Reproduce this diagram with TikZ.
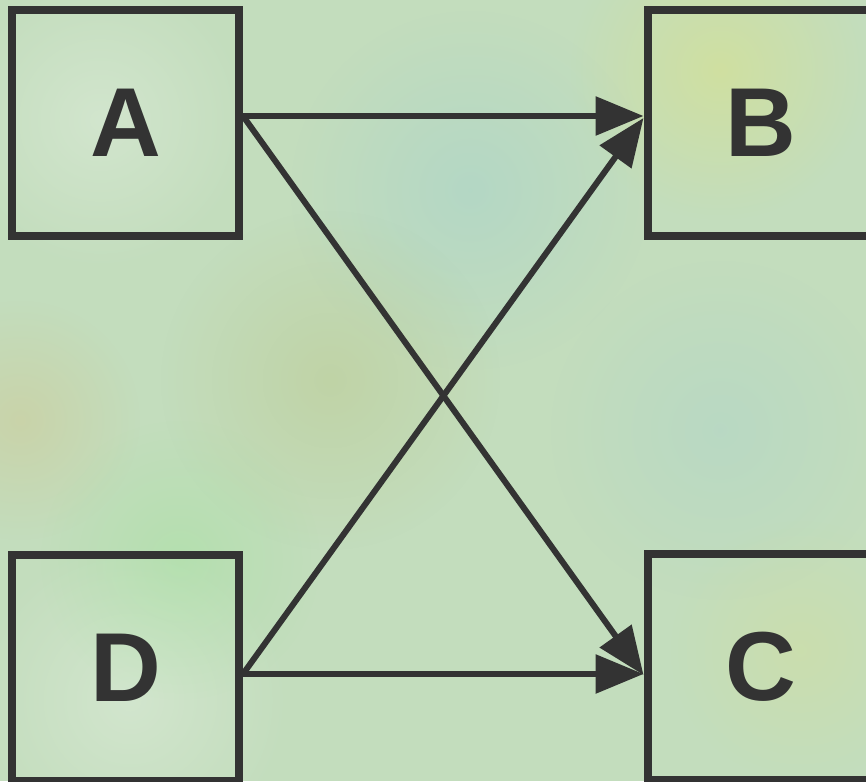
\documentclass[tikz,border=0pt]{standalone}
\usepackage{fontspec}
\setmainfont{Liberation Sans}
\usetikzlibrary{arrows.meta,fadings}
\definecolor{bgbase}{HTML}{C3DDBD}
\definecolor{ink}{HTML}{333333}
\tikzfading[name=softblob,inner color=transparent!0,outer color=transparent!100]
\begin{document}
\begin{tikzpicture}[x=1pt,y=-1pt,
  box/.style={draw=ink,line width=8pt,minimum width=227pt,minimum height=226pt,inner sep=0pt,
    font=\fontsize{98}{98}\selectfont\bfseries,text=ink},
  arr/.style={draw=ink,line width=6pt,-{Triangle[length=48pt,width=38pt]}},
  blob/.style={path fading=softblob}]
\useasboundingbox (0,0) rectangle (866,781);
\clip (0,0) rectangle (866,781);
\fill[bgbase] (0,0) rectangle (866,781);
% soft colour variations of the textured background
\fill[blob,color=yellow!40!bgbase,opacity=0.45] (720,70) circle (150);
\fill[blob,color=cyan!25!bgbase,opacity=0.4] (470,190) circle (180);
\fill[blob,color=olive!35!bgbase,opacity=0.3] (330,380) circle (170);
\fill[blob,color=orange!30!bgbase,opacity=0.35] (20,420) circle (120);
\fill[blob,color=cyan!20!bgbase,opacity=0.35] (720,430) circle (170);
\fill[blob,color=white,opacity=0.25] (130,700) circle (160);
\fill[blob,color=yellow!30!bgbase,opacity=0.35] (800,650) circle (130);
\fill[blob,color=white,opacity=0.25] (100,120) circle (150);
\fill[blob,color=green!30!bgbase,opacity=0.25] (180,560) circle (140);
% boxes
\node[box] (A) at (125.5,123) {A};
\node[box] (B) at (761,123) {B};
\node[box] (C) at (761,667) {C};
\node[box] (D) at (125.5,667.5) {D};
% connectors
\draw[arr] ([yshift=7pt]A.east) -- ([yshift=7pt]B.west);
\draw[arr] ([yshift=7pt]A.east) -- ([yshift=-8pt]C.west);
\draw[arr] ([yshift=-6.5pt]D.east) -- ([yshift=5pt]B.west);
\draw[arr] ([yshift=-6.5pt]D.east) -- ([yshift=-7pt]C.west);
\end{tikzpicture}
\end{document}
